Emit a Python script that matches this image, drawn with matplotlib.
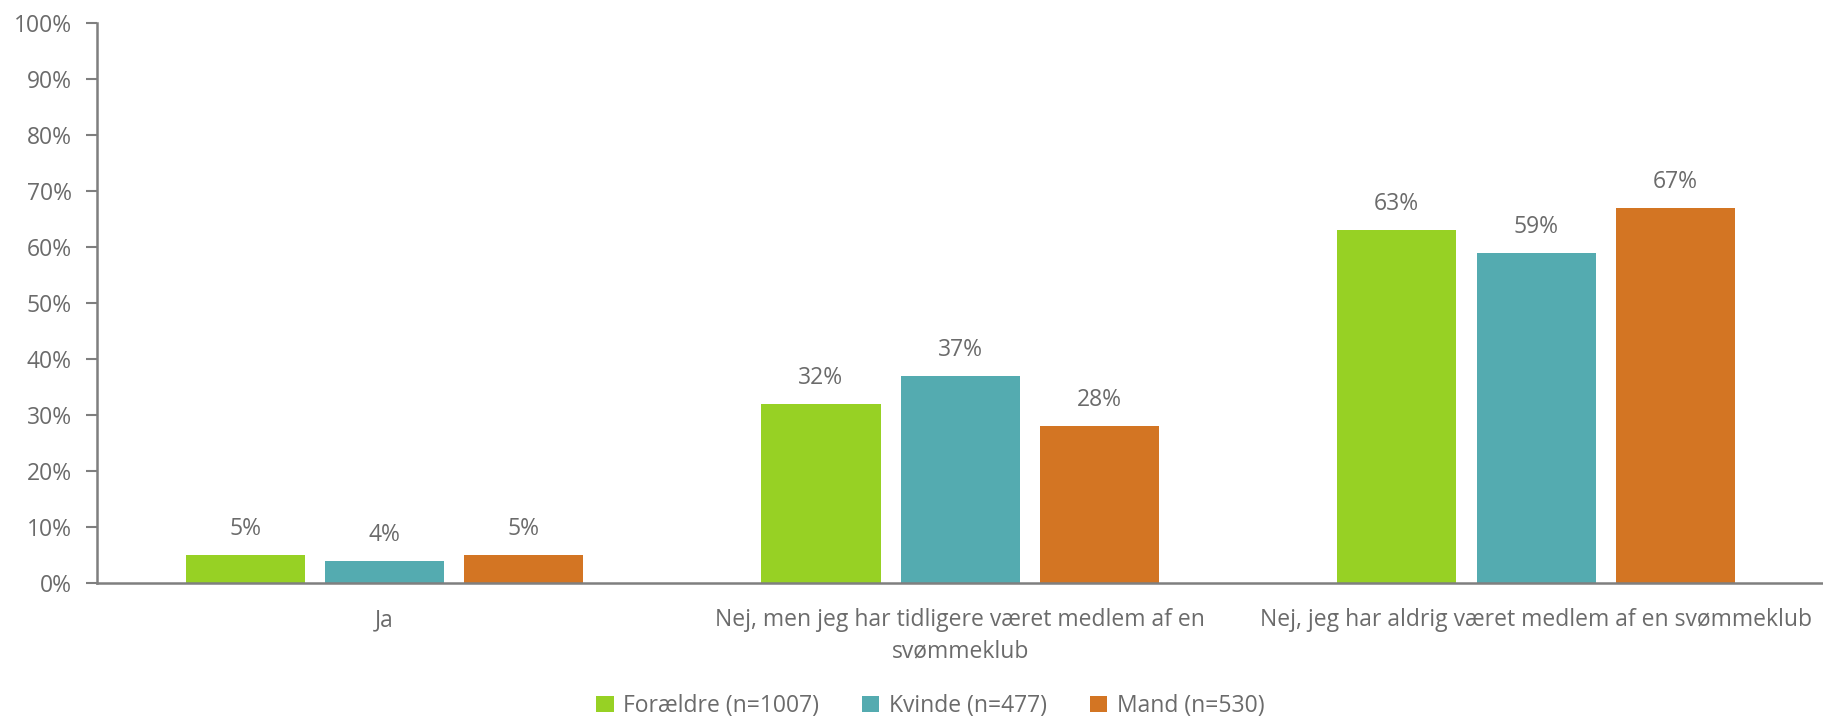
import matplotlib.pyplot as plt
import numpy as np

categories = ["Ja", "Nej, men jeg har tidligere været medlem af en\nsvømmeklub",
              "Nej, jeg har aldrig været medlem af en svømmeklub"]
series = ["Forældre (n=1007)", "Kvinde (n=477)", "Mand (n=530)"]
foraeldre = [5, 32, 63]
kvinde = [4, 37, 59]
mand = [5, 28, 67]
colors = ["#97D124", "#54ABB0", "#D37523"]

plt.rcParams['font.family'] = ['Open Sans', 'DejaVu Sans']
grey = "#6b6b6b"
fs = 16.5

fig = plt.figure(figsize=(18.24, 7.19), dpi=100)
ax = fig.add_axes([0.053, 0.189, 0.947, 0.779])

x = np.arange(len(categories))
width = 0.207
pitch = 0.242
for i, (vals, name) in enumerate(zip([foraeldre, kvinde, mand], series)):
    pos = x + (i - 1) * pitch
    ax.bar(pos, vals, width, color=colors[i], label=name)
    for p, v in zip(pos, vals):
        ax.text(p, v + 2.5, f"{v}%", ha="center", va="bottom", fontsize=fs, color=grey)

ax.set_xlim(-0.5, 2.5)
ax.set_ylim(0, 100)
ax.set_yticks(range(0, 101, 10))
ax.set_yticklabels([f"{t}%" for t in range(0, 101, 10)], fontsize=fs, color=grey)
ax.set_xticks(x)
ax.set_xticklabels(categories, fontsize=fs, color=grey, va="top", linespacing=1.4)
ax.tick_params(axis="x", length=0, pad=18)
ax.tick_params(axis="y", length=8, width=1.5, color="#7f7f7f", pad=10)

for s in ["top", "right"]:
    ax.spines[s].set_visible(False)
for s in ["left", "bottom"]:
    ax.spines[s].set_color("#7f7f7f")
    ax.spines[s].set_linewidth(1.8)

handles, labels = ax.get_legend_handles_labels()
leg = fig.legend(handles, labels, loc="center", bbox_to_anchor=(0.51, 0.018), ncol=3,
                 frameon=False, fontsize=fs, handlelength=0.75, handleheight=0.75,
                 columnspacing=1.9, handletextpad=0.4)
for t in leg.get_texts():
    t.set_color(grey)

fig.savefig("out.png", dpi=100)
